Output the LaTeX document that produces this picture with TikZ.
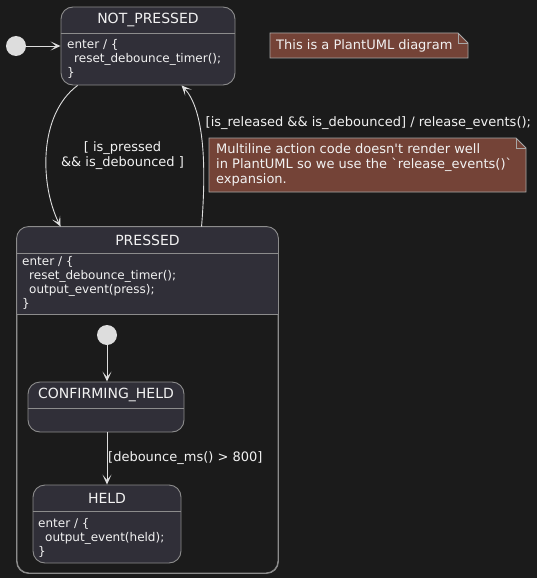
\documentclass[tikz,border=0pt]{standalone}
\usepackage{fontspec}
\setmainfont{DejaVu Sans}
\usetikzlibrary{arrows.meta}
\definecolor{bgcol}{HTML}{1B1B1B}
\definecolor{boxcol}{HTML}{302F38}
\definecolor{linecol}{HTML}{8C8C8C}
\definecolor{dotcol}{HTML}{DDDDDD}
\definecolor{notecol}{HTML}{744337}
\definecolor{noteline}{HTML}{A8A8A8}
\definecolor{txtcol}{HTML}{F2F2F2}
\begin{document}
\begin{tikzpicture}[x=1pt, y=-1pt,
    >={Stealth[length=10pt, width=9pt, inset=5.5pt]},
    statebox/.style={draw=linecol, fill=boxcol, line width=0.9pt, rounded corners=12pt, inner sep=0pt},
    sepline/.style={draw=linecol, line width=0.9pt},
    initdot/.style={circle, fill=dotcol, minimum size=20pt, inner sep=0pt},
    statetitle/.style={text=txtcol, font=\fontsize{14}{17}\selectfont, inner sep=0pt},
    statebody/.style={text=txtcol, font=\fontsize{12}{14}\selectfont, align=left, anchor=west, inner sep=0pt},
    notetext/.style={text=txtcol, font=\fontsize{13}{15}\selectfont, align=left, anchor=west, inner sep=0pt},
    notebox/.style={draw=noteline, fill=notecol, line width=0.8pt},
    translabel/.style={text=txtcol, font=\fontsize{13}{15}\selectfont, inner sep=0pt},
    trans/.style={->, draw=dotcol, line width=0.9pt}]
    % 背景
    \fill[bgcol] (0,0) rectangle (537,578);

    % 顶层状态 NOT_PRESSED
    \node[initdot] (init1) at (16,46) {};
    \node[statebox, minimum width=174pt, minimum height=78pt] (np) at (148,46) {};
    \draw[sepline] (np.west |- 0,33) -- (np.east |- 0,33);
    \node[statetitle] (npT) at (148,20) {NOT\_PRESSED};
    \node[statebody] (npB) at (67,58.5) {enter / \{\\\hspace*{7pt}reset\_debounce\_timer();\\\}};
    \draw[trans] (init1) -- (np);

    % 注释 1
    \draw[notebox] (270,58) -- (270,33) -- (458,33) -- (468,43) -- (468,58) -- cycle;
    \draw[draw=noteline, line width=0.8pt] (458,33) -- (458,43) -- (468,43);
    \node[notetext] (note1T) at (276,46) {This is a PlantUML diagram};

    % 复合状态 PRESSED（下半部分是背景色）
    \node[statebox, fill=bgcol, minimum width=261pt, minimum height=346pt] (pr) at (147.5,400) {};
    \fill[boxcol] (pr.west |- 0,314) [rounded corners=12pt] -- (pr.north west) -- (pr.north east) [sharp corners] -- (pr.east |- 0,314) -- cycle;
    \draw[linecol, line width=0.9pt, rounded corners=12pt] (pr.south west) rectangle (pr.north east);
    \draw[sepline] (pr.west |- 0,253) -- (pr.east |- 0,253);
    \draw[sepline] (pr.west |- 0,314) -- (pr.east |- 0,314);
    \node[statetitle] (prT) at (147.5,240) {PRESSED};
    \node[statebody] (prB) at (22,283) {enter / \{\\\hspace*{7pt}reset\_debounce\_timer();\\\hspace*{7pt}output\_event(press);\\\}};

    % 两个状态之间的转换
    \draw[trans] ([xshift=17pt]np.south west) .. controls (38,115) and (40,185) .. ([xshift=44pt]pr.north west);
    \node[translabel, align=center] (pressLbl) at (122.5,155.5) {[ is\_pressed\\\&\& is\_debounced ]};
    \draw[trans] ([xshift=185pt]pr.north west) .. controls (207,160) and (203,108) .. ([xshift=121pt]np.south west);
    \node[translabel, anchor=west] (relLbl) at (205.5,123) {[is\_released \&\& is\_debounced] / release\_events();};

    % 注释 2
    \draw[notebox] (209,192) -- (209,138) -- (516,138) -- (526,148) -- (526,192) -- cycle;
    \draw[draw=noteline, line width=0.8pt] (516,138) -- (516,148) -- (526,148);
    \node[notetext] (note2T) at (216,165) {Multiline action code doesn\textquotesingle t render well\\in PlantUML so we use the \textasciigrave release\_events()\textasciigrave\\expansion.};

    % 内部子状态
    \node[initdot] (init2) at (107,335) {};
    \node[statebox, minimum width=156pt, minimum height=50pt] (conf) at (106,407) {};
    \draw[sepline] (conf.west |- 0,408) -- (conf.east |- 0,408);
    \node[statetitle] (confT) at (106,395) {CONFIRMING\_HELD};
    \node[statebox, minimum width=148pt, minimum height=78pt] (held) at (107,524) {};
    \draw[sepline] (held.west |- 0,511) -- (held.east |- 0,511);
    \node[statetitle] (heldT) at (107,498) {HELD};
    \node[statebody] (heldB) at (38,538) {enter / \{\\\hspace*{7pt}output\_event(held);\\\}};
    \draw[trans] (init2) -- (init2 |- conf.north);
    \draw[trans] (conf.south -| init2) -- (init2 |- held.north);
    \node[translabel, anchor=west] (holdLbl) at (108,458) {[debounce\_ms() > 800]};
\end{tikzpicture}
\end{document}
